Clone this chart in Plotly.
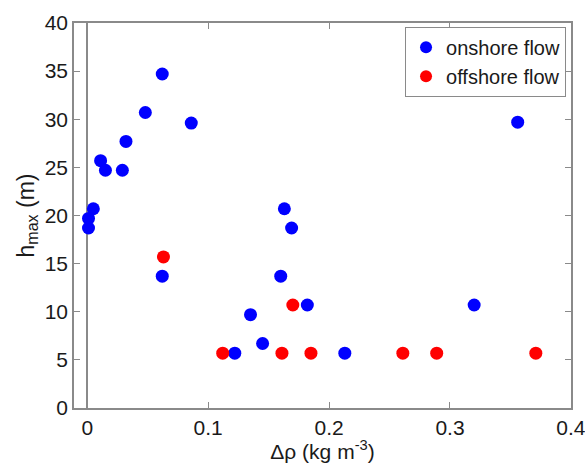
import plotly.graph_objects as go

on_x = [0.001, 0.001, 0.005, 0.011, 0.015, 0.029, 0.032, 0.048, 0.062, 0.086, 0.062,
        0.135, 0.122, 0.145, 0.163, 0.169, 0.160, 0.182, 0.213, 0.320, 0.356]
on_y = [18.7, 19.7, 20.7, 25.7, 24.7, 24.7, 27.7, 30.7, 34.7, 29.6, 13.7,
        9.7, 5.7, 6.7, 20.7, 18.7, 13.7, 10.7, 5.7, 10.7, 29.7]
off_x = [0.063, 0.112, 0.161, 0.170, 0.185, 0.261, 0.289, 0.371]
off_y = [15.7, 5.7, 5.7, 10.7, 5.7, 5.7, 5.7, 5.7]

x_ticks = [0, 0.1, 0.2, 0.3, 0.4]
y_ticks = [0, 5, 10, 15, 20, 25, 30, 35, 40]

font = "Liberation Sans, Arial, sans-serif"
fig = go.Figure()
fig.add_trace(go.Scatter(x=on_x, y=on_y, mode="markers", name="onshore flow",
                         marker=dict(color="#0000FF", size=13)))
fig.add_trace(go.Scatter(x=off_x, y=off_y, mode="markers", name="offshore flow",
                         marker=dict(color="#FF0000", size=13)))

axis_common = dict(showgrid=False, showline=True, linecolor="#8a8a8a", linewidth=1.5,
                   mirror="ticks", ticks="inside", ticklen=6, tickcolor="#8a8a8a",
                   automargin=False, ticklabeloverflow="allow",
                   tickfont=dict(size=21, color="#1a1a1a", family=font))
fig.update_xaxes(range=[-0.011, 0.4001], tickvals=x_ticks, ticktext=["0", "0.1", "0.2", "0.3", "0.4"],
                 zeroline=True, zerolinecolor="#8a8a8a", zerolinewidth=1.5,
                 title=dict(text="Δρ (kg m<sup>-3</sup>)", font=dict(size=21, color="#1a1a1a", family=font), standoff=0),
                 **axis_common)
fig.update_yaxes(range=[0, 40], tickvals=y_ticks, zeroline=False,
                 title=dict(text="h<sub>max</sub> (m)", font=dict(size=23, color="#1a1a1a", family=font), standoff=4),
                 **axis_common)
fig.update_layout(width=585, height=463, margin=dict(l=74, r=14, t=23, b=55),
                  plot_bgcolor="white", paper_bgcolor="white",
                  legend=dict(x=0.99, y=0.99, xanchor="right", yanchor="top",
                              bordercolor="#8a8a8a", borderwidth=1, bgcolor="white",
                              font=dict(size=20, color="#1a1a1a", family=font),
                              itemsizing="constant", tracegroupgap=0))
fig.write_html("out.html")
